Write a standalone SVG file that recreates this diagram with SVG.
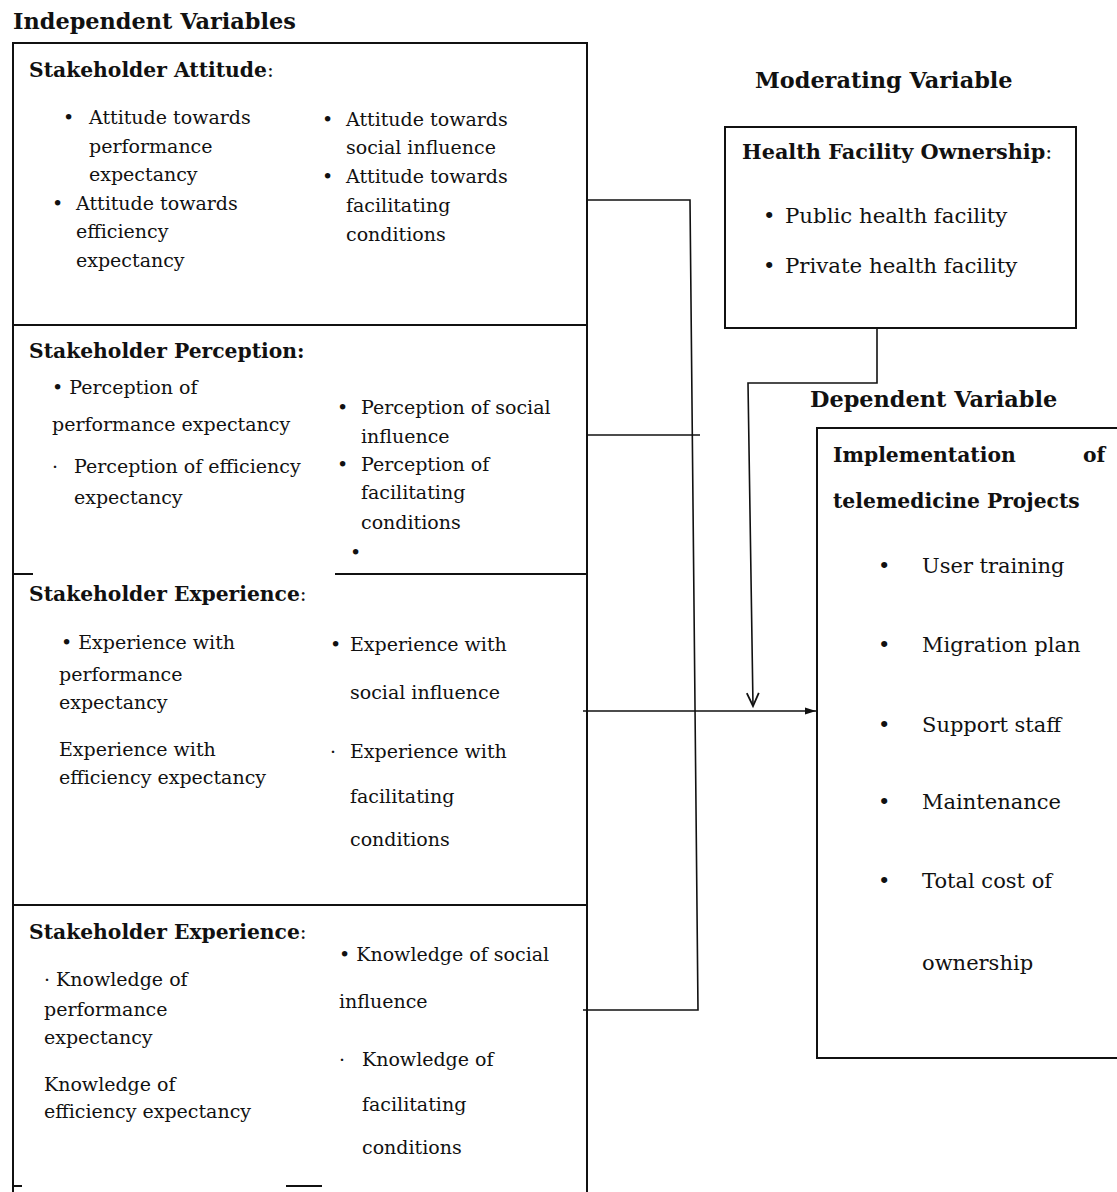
<svg xmlns="http://www.w3.org/2000/svg" width="1117" height="1192" viewBox="0 0 1117 1192">
<defs>
<style>
text{font-family:"DejaVu Serif","Liberation Serif",serif;fill:#111;}
.h{font-weight:bold;font-size:20.3px;}
.t{font-weight:bold;font-size:22.4px;}
.b{font-size:19px;}
.r{font-size:21px;}
.ln{stroke:#111;stroke-width:1.6;fill:none;}
.bx{stroke:#111;stroke-width:2;fill:none;}
</style>
<marker id="fa" markerWidth="12" markerHeight="10" refX="11" refY="5" orient="auto" markerUnits="userSpaceOnUse">
<path d="M0,1.5 L11,5 L0,8.5 Z" fill="#111"/>
</marker>
<marker id="oa" markerWidth="18" markerHeight="14" refX="15" refY="7" orient="auto" markerUnits="userSpaceOnUse">
<path d="M2,1 L15,7 L2,13" fill="none" stroke="#111" stroke-width="1.8"/>
</marker>
</defs>
<rect width="1117" height="1192" fill="#fff"/>

<text class="t" x="13" y="29">Independent Variables</text>

<g id="independent-frame">
<path class="bx" d="M13,1192 V43 H587 V1192"/>
<path class="bx" d="M13,325 H587"/>
<path class="bx" d="M13,574 H33 M335,574 H587"/>
<path class="bx" d="M13,905 H587"/>
<path class="bx" d="M13,1186 H22 M286,1186 H322"/>
</g>

<g id="attitude">
<text class="h" x="29" y="77">Stakeholder Attitude<tspan font-weight="normal">:</tspan></text>
<text class="b" x="63" y="124">•</text>
<text class="b" x="89" y="124">Attitude towards</text>
<text class="b" x="89" y="153">performance</text>
<text class="b" x="89" y="181">expectancy</text>
<text class="b" x="52" y="210">•</text>
<text class="b" x="76" y="210">Attitude towards</text>
<text class="b" x="76" y="238">efficiency</text>
<text class="b" x="76" y="267">expectancy</text>
<text class="b" x="322" y="126">•</text>
<text class="b" x="346" y="126">Attitude towards</text>
<text class="b" x="346" y="154">social influence</text>
<text class="b" x="322" y="183">•</text>
<text class="b" x="346" y="183">Attitude towards</text>
<text class="b" x="346" y="212">facilitating</text>
<text class="b" x="346" y="241">conditions</text>
</g>

<g id="perception">
<text class="h" x="29" y="358">Stakeholder Perception:</text>
<text class="b" x="52" y="394">• Perception of</text>
<text class="b" x="52" y="431">performance expectancy</text>
<text class="b" x="52" y="473">·</text>
<text class="b" x="74" y="473">Perception of efficiency</text>
<text class="b" x="74" y="504">expectancy</text>
<text class="b" x="337" y="414">•</text>
<text class="b" x="361" y="414">Perception of social</text>
<text class="b" x="361" y="443">influence</text>
<text class="b" x="337" y="471">•</text>
<text class="b" x="361" y="471">Perception of</text>
<text class="b" x="361" y="499">facilitating</text>
<text class="b" x="361" y="529">conditions</text>
<text class="b" x="350" y="559">•</text>
</g>

<g id="experience">
<text class="h" x="29" y="601">Stakeholder Experience<tspan font-weight="normal">:</tspan></text>
<text class="b" x="61" y="649">• Experience with</text>
<text class="b" x="59" y="681">performance</text>
<text class="b" x="59" y="709">expectancy</text>
<text class="b" x="59" y="756">Experience with</text>
<text class="b" x="59" y="784">efficiency expectancy</text>
<text class="b" x="330" y="651">•</text>
<text class="b" x="350" y="651">Experience with</text>
<text class="b" x="350" y="699">social influence</text>
<text class="b" x="330" y="758">·</text>
<text class="b" x="350" y="758">Experience with</text>
<text class="b" x="350" y="803">facilitating</text>
<text class="b" x="350" y="846">conditions</text>
</g>

<g id="knowledge">
<text class="h" x="29" y="939">Stakeholder Experience<tspan font-weight="normal">:</tspan></text>
<text class="b" x="44" y="986">· Knowledge of</text>
<text class="b" x="44" y="1016">performance</text>
<text class="b" x="44" y="1044">expectancy</text>
<text class="b" x="44" y="1091">Knowledge of</text>
<text class="b" x="44" y="1118">efficiency expectancy</text>
<text class="b" x="339" y="961">• Knowledge of social</text>
<text class="b" x="339" y="1008">influence</text>
<text class="b" x="339" y="1066">·</text>
<text class="b" x="362" y="1066">Knowledge of</text>
<text class="b" x="362" y="1111">facilitating</text>
<text class="b" x="362" y="1154">conditions</text>
</g>

<g id="moderating">
<text class="t" x="755" y="88">Moderating Variable</text>
<rect class="bx" x="725" y="127" width="351" height="201"/>
<text class="h" x="742" y="159" style="font-size:20.8px">Health Facility Ownership<tspan font-weight="normal">:</tspan></text>
<text class="r" x="763" y="223">•</text>
<text class="r" x="785" y="223" style="font-size:21.3px">Public health facility</text>
<text class="r" x="763" y="273">•</text>
<text class="r" x="785" y="273" style="font-size:21.3px">Private health facility</text>
</g>

<g id="dependent">
<text class="t" x="810" y="407">Dependent Variable</text>
<rect class="bx" x="817" y="428" width="310" height="630"/>
<text class="h" x="833" y="462">Implementation</text>
<text class="h" x="1083" y="462">of</text>
<text class="h" x="833" y="508">telemedicine Projects</text>
<text class="r" x="878" y="573">•</text>
<text class="r" x="922" y="573">User training</text>
<text class="r" x="878" y="652">•</text>
<text class="r" x="922" y="652">Migration plan</text>
<text class="r" x="878" y="732">•</text>
<text class="r" x="922" y="732">Support staff</text>
<text class="r" x="878" y="809">•</text>
<text class="r" x="922" y="809">Maintenance</text>
<text class="r" x="878" y="888">•</text>
<text class="r" x="922" y="888">Total cost of</text>
<text class="r" x="922" y="970">ownership</text>
</g>

<g id="connectors">
<path class="ln" d="M587,200 H690 L698,1010 H583"/>
<path class="ln" d="M587,435 H700"/>
<path class="ln" d="M583,711 H816" marker-end="url(#fa)"/>
<path class="ln" d="M877,328 V383 H748 L753,706" marker-end="url(#oa)"/>
</g>
</svg>
